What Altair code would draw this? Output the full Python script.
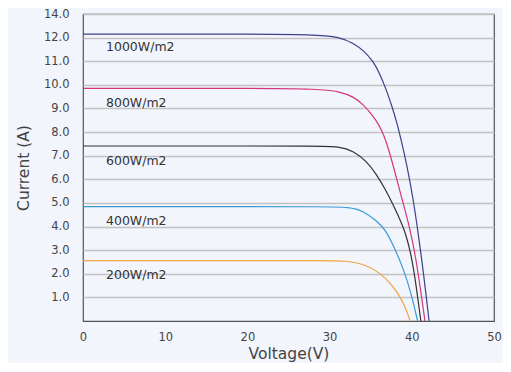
import altair as alt
import pandas as pd

# Series (voltage V, current A)
v1000 = [0, 10, 20, 28.0, 31.3, 32.9, 34.1, 35.3, 36.1, 36.9, 37.6, 38.2, 38.6, 39.4, 40.2, 40.7, 41.2, 41.7, 42.1]
i1000 = [12.15, 12.15, 12.15, 12.13, 12.03, 11.75, 11.47, 11.0, 10.48, 9.79, 9.08, 8.38, 7.82, 6.63, 5.1, 3.9, 2.63, 1.22, 0]

v800 = [0, 10, 20, 28.8, 31.3, 32.9, 34.1, 35.3, 36.0, 36.6, 37.2, 37.8, 38.7, 39.8, 40.5, 41.1, 41.6]
i800 = [9.85, 9.85, 9.85, 9.83, 9.71, 9.50, 9.17, 8.68, 8.30, 7.88, 7.25, 6.50, 5.30, 3.90, 2.65, 1.25, 0]

v600 = [0, 10, 20, 28.0, 31.3, 32.9, 34.5, 35.7, 36.9, 37.7, 38.6, 39.2, 39.8, 40.4, 41.1]
i600 = [7.41, 7.41, 7.41, 7.41, 7.40, 7.19, 6.77, 6.21, 5.50, 4.94, 4.28, 3.75, 3.00, 1.85, 0]

v400 = [0, 10, 20, 29.0, 32.5, 34.1, 35.7, 36.3, 36.9, 37.7, 39.0, 40.0, 40.7]
i400 = [4.84, 4.84, 4.84, 4.84, 4.83, 4.66, 4.24, 4.03, 3.78, 3.25, 2.21, 1.08, 0]

v200 = [0, 10, 20, 29.0, 32.1, 34.1, 36.1, 37.7, 39.0, 39.8]
i200 = [2.56, 2.56, 2.56, 2.56, 2.55, 2.42, 2.06, 1.50, 0.80, 0]

series_names = ["1000W/m2", "800W/m2", "600W/m2", "400W/m2", "200W/m2"]
series_colors = ["#3c3f8a", "#d4357c", "#333333", "#3a9bd8", "#f0a33e"]
label_x = [2.8, 2.8, 2.8, 2.8, 2.8]
label_y = [11.62, 9.22, 6.78, 4.25, 1.93]

y_ticks = [1, 2, 3, 4, 5, 6, 7, 8, 9, 10, 11, 12, 13]
x_ticks = [0, 10, 20, 30, 40, 50]

rows = []
for name, vs, cs in zip(series_names, [v1000, v800, v600, v400, v200], [i1000, i800, i600, i400, i200]):
    for k, (v, c) in enumerate(zip(vs, cs)):
        rows.append({"series": name, "V": v, "I": c, "order": k})
df = pd.DataFrame(rows)
labels = pd.DataFrame({"series": series_names, "V": label_x, "I": label_y})

FONT = "DejaVu Sans"
TXT = "#444444"

xscale = alt.Scale(domain=[0, 50], nice=False, zero=False)
yscale = alt.Scale(domain=[0, 13], nice=False, zero=False)
color = alt.Color("series:N", scale=alt.Scale(domain=series_names, range=series_colors), legend=None)

x_axis = alt.Axis(values=x_ticks, title="Voltage(V)", grid=False, domain=False, ticks=False,
                  labelPadding=10, titlePadding=4, labelFontSize=11.5, titleFontSize=15.5,
                  labelColor=TXT, titleColor=TXT, titleFontWeight="normal",
                  labelFont=FONT, titleFont=FONT, labelOverlap=False, labelFlush=False)
y_axis = alt.Axis(values=y_ticks, title="Current (A)", grid=True, gridColor="#c2c2c2", gridWidth=1.5,
                  domain=False, ticks=False, labelPadding=14, titlePadding=12,
                  labelExpr="datum.value == 13 ? '14.0' : format(datum.value, '.1f')",
                  labelFontSize=11.5, titleFontSize=15.5, labelColor=TXT, titleColor=TXT,
                  titleFontWeight="normal", labelFont=FONT, titleFont=FONT, labelOverlap=False,
                  labelFlush=False)

lines = alt.Chart(df).mark_line(strokeWidth=1.2, interpolate="basis").encode(
    x=alt.X("V:Q", scale=xscale, axis=x_axis),
    y=alt.Y("I:Q", scale=yscale, axis=y_axis),
    color=color,
    order="order:Q",
    detail="series:N",
)

texts = alt.Chart(labels).mark_text(align="left", baseline="middle", fontSize=12.5, font=FONT, color="#333333").encode(
    x=alt.X("V:Q", scale=xscale, axis=x_axis),
    y=alt.Y("I:Q", scale=yscale, axis=y_axis),
    text="series:N",
)

chart = alt.layer(lines, texts).properties(
    width=411, height=307,
    background="#f2f5fc",
    autosize=alt.AutoSizeParams(type="none"),
    padding={"left": 75, "top": 6, "right": 9, "bottom": 42},
).configure_view(stroke="#555555", strokeWidth=1.2).configure_axis(labelOverlap=False)

chart.save("out.html", embed_options={"renderer": "svg", "actions": False})
